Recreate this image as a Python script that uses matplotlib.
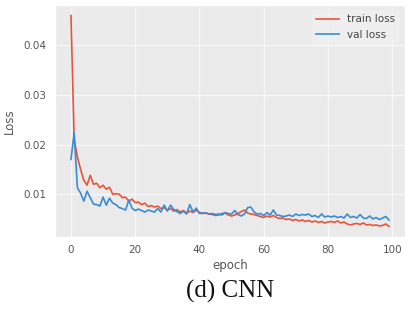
import numpy as np
import matplotlib
matplotlib.use("Agg")
from matplotlib import pyplot as plt

# loss values, one per epoch
train_loss = [
    0.0460, 0.0210, 0.0175, 0.0150, 0.0128, 0.0118, 0.0138, 0.0120, 0.0122, 0.0113,
    0.0118, 0.0110, 0.0114, 0.0100, 0.0101, 0.0100, 0.0093, 0.0094, 0.0086, 0.0090,
    0.0083, 0.0084, 0.0079, 0.0082, 0.0075, 0.0077, 0.0074, 0.0076, 0.0071, 0.0073,
    0.0068, 0.0071, 0.0066, 0.0069, 0.0064, 0.0067, 0.0062, 0.0066, 0.0063, 0.0068,
    0.0063, 0.0061, 0.0062, 0.0060, 0.0059, 0.0057, 0.0058, 0.0061, 0.0062, 0.0058,
    0.0056, 0.0058, 0.0061, 0.0065, 0.0068, 0.0062, 0.0060, 0.0059, 0.0057, 0.0055,
    0.0053, 0.0056, 0.0054, 0.0057, 0.0053, 0.0051, 0.0052, 0.0049, 0.0050, 0.0047,
    0.0049, 0.0046, 0.0048, 0.0045, 0.0047, 0.0044, 0.0046, 0.0043, 0.0045, 0.0042,
    0.0044, 0.0045, 0.0043, 0.0046, 0.0042, 0.0044, 0.0040, 0.0038, 0.0040, 0.0041,
    0.0039, 0.0042, 0.0038, 0.0039, 0.0037, 0.0038, 0.0036, 0.0037, 0.0040, 0.0035,
]
val_loss = [
    0.0170, 0.0224, 0.0113, 0.0102, 0.0086, 0.0106, 0.0093, 0.0080, 0.0079, 0.0076,
    0.0094, 0.0078, 0.0092, 0.0082, 0.0079, 0.0073, 0.0071, 0.0068, 0.0088, 0.0072,
    0.0067, 0.0070, 0.0067, 0.0064, 0.0068, 0.0066, 0.0064, 0.0071, 0.0064, 0.0078,
    0.0066, 0.0078, 0.0069, 0.0065, 0.0061, 0.0066, 0.0060, 0.0079, 0.0064, 0.0072,
    0.0061, 0.0062, 0.0062, 0.0060, 0.0061, 0.0059, 0.0060, 0.0058, 0.0063, 0.0061,
    0.0060, 0.0067, 0.0059, 0.0056, 0.0060, 0.0073, 0.0074, 0.0064, 0.0060, 0.0061,
    0.0057, 0.0063, 0.0058, 0.0068, 0.0058, 0.0057, 0.0055, 0.0056, 0.0058, 0.0055,
    0.0060, 0.0057, 0.0059, 0.0058, 0.0060, 0.0055, 0.0057, 0.0053, 0.0060, 0.0054,
    0.0056, 0.0054, 0.0056, 0.0053, 0.0055, 0.0052, 0.0060, 0.0053, 0.0055, 0.0052,
    0.0059, 0.0052, 0.0051, 0.0056, 0.0050, 0.0053, 0.0049, 0.0052, 0.0055, 0.0048,
]
epochs = np.arange(len(train_loss))

plt.style.use('ggplot')

fig = plt.figure(figsize=(4.14, 3.11), dpi=100)
fig.patch.set_facecolor('white')
ax = fig.add_axes([0.133, 0.238, 0.845, 0.746])
ax.set_facecolor('#EAEAEA')

ax.plot(epochs, train_loss, color='#E8533A', lw=1.2, label='train loss')
ax.plot(epochs, val_loss, color='#3A8CD0', lw=1.2, label='val loss')

ax.set_xticks([0, 20, 40, 60, 80, 100])
ax.set_yticks([0.01, 0.02, 0.03, 0.04])
ax.tick_params(labelsize=7.5, colors='#555555', length=0, pad=6)
ax.set_xlabel('epoch', fontsize=8.5, color='#555555', labelpad=3)
ax.set_ylabel('Loss', fontsize=8.5, color='#555555', labelpad=6)
ax.grid(color='#F7F7F7', lw=1)

leg = ax.legend(loc='upper right', fontsize=7.5, frameon=True, handlelength=2.2)
leg.get_frame().set_facecolor('#F0F0F0')
leg.get_frame().set_edgecolor('none')
for t in leg.get_texts():
    t.set_color('#444444')

fig.text(0.556, 0.062, '(d) CNN', ha='center', va='center',
         fontsize=18, family='Liberation Serif', color='#111111')

fig.savefig('out.png', dpi=100)
